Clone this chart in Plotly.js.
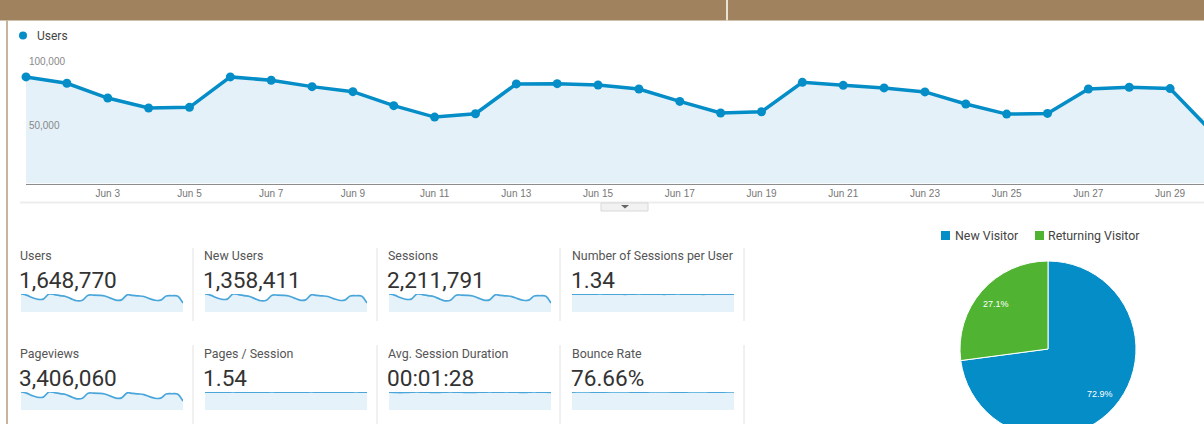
<!DOCTYPE html>
<html><head><meta charset="utf-8">
<script src="https://cdn.plot.ly/plotly-3.0.1.min.js"></script>
<style>
html,body{margin:0;padding:0;background:#fff;overflow:hidden;width:1204px;height:424px}
#wrap{width:1204px;height:424px;overflow:hidden;position:relative}
#chart{width:1204px;height:440px}
</style>
</head><body><div id="wrap"><div id="chart"></div></div>
<script>
// ---------- DATA ----------
const days = ["Jun 1","Jun 2","Jun 3","Jun 4","Jun 5","Jun 6","Jun 7","Jun 8","Jun 9","Jun 10",
  "Jun 11","Jun 12","Jun 13","Jun 14","Jun 15","Jun 16","Jun 17","Jun 18","Jun 19","Jun 20",
  "Jun 21","Jun 22","Jun 23","Jun 24","Jun 25","Jun 26","Jun 27","Jun 28","Jun 29","Jun 30"];
const users = [82300,77400,66000,58300,58800,82300,79700,74800,70900,60100,
  51300,53900,76900,77100,76100,73000,63400,54400,55400,78100,
  75800,73800,70700,61400,53600,54100,73000,74300,73300,40700];
const newUsers = [67500,63500,54100,47800,48200,67500,65400,61300,58100,49300,
  42100,44200,63100,63200,62400,59900,52000,44600,45400,64000,
  62200,60500,58000,50300,44000,44400,59900,60900,60100,33400];
const sessions = [110300,103700,88400,78100,78800,110300,106800,100200,95000,80500,
  68700,72200,103000,103300,102000,97800,85000,72900,74200,104700,
  101600,98900,94700,82300,71800,72500,97800,99600,98200,54500];
const sessionsPerUser = [1.34,1.34,1.33,1.34,1.34,1.35,1.34,1.34,1.34,1.33,
  1.33,1.34,1.35,1.34,1.34,1.34,1.33,1.33,1.34,1.35,
  1.34,1.34,1.34,1.33,1.33,1.34,1.34,1.34,1.34,1.33];
const pageviews = [169900,159700,136100,120300,121400,169900,164500,154300,146300,124000,
  105800,111200,158600,159100,157100,150600,130900,112300,114300,161200,
  156500,152300,145800,126700,110600,111700,150600,153400,151200,83900];
const pagesPerSession = [1.54,1.54,1.53,1.54,1.54,1.55,1.54,1.54,1.54,1.53,
  1.53,1.54,1.55,1.54,1.54,1.54,1.53,1.54,1.54,1.55,
  1.54,1.54,1.54,1.53,1.53,1.54,1.54,1.55,1.54,1.53];
const avgDurationSec = [88,87,86,87,88,89,88,88,87,87,88,89,88,88,87,87,88,88,89,88,
  88,89,88,88,87,88,89,88,88,87];
const bounceRate = [76.6,76.7,76.8,76.7,76.6,76.5,76.6,76.7,76.7,76.8,76.7,76.6,76.5,76.6,76.7,
  76.7,76.8,76.7,76.6,76.5,76.6,76.7,76.7,76.8,76.7,76.6,76.6,76.6,76.7,76.8];
const tickDays = ["Jun 1","Jun 3","Jun 5","Jun 7","Jun 9","Jun 11","Jun 13","Jun 15","Jun 17",
  "Jun 19","Jun 21","Jun 23","Jun 25","Jun 27","Jun 29"];
const tickText = ["...","Jun 3","Jun 5","Jun 7","Jun 9","Jun 11","Jun 13","Jun 15","Jun 17",
  "Jun 19","Jun 21","Jun 23","Jun 25","Jun 27","Jun 29"];
const yTickVals = [50000,100000];
const yTickText = ["50,000","100,000"];
const metricNames = ["Users","New Users","Sessions","Number of Sessions per User",
  "Pageviews","Pages / Session","Avg. Session Duration","Bounce Rate"];
const metricValues = ["1,648,770","1,358,411","2,211,791","1.34","3,406,060","1.54","00:01:28","76.66%"];
const metricSeries = [users,newUsers,sessions,sessionsPerUser,pageviews,pagesPerSession,avgDurationSec,bounceRate];
const visitorTypes = ["New Visitor","Returning Visitor"];
const visitorShare = [72.9,27.1];
const visitorLabels = ["72.9%","27.1%"];

// ---------- LAYOUT HELPERS ----------
const W=1204, H=440;
const fx = p => p/W;
const fy = p => 1 - p/H;
const BLUE='#058DC7', GREEN='#50B432';
const ROBOTO='Roboto, Arial, sans-serif';
const ARIAL='"Liberation Sans", Arial, sans-serif';

const traces = [];
traces.push({
  x: days, y: users, type:'scatter', mode:'lines+markers',
  line:{color:BLUE, width:3.5}, marker:{size:9, color:BLUE},
  fill:'tozeroy', fillcolor:'#E4F1F9', cliponaxis:false,
  xaxis:'x', yaxis:'y', hoverinfo:'x+y'
});

const layout = {
  width:W, height:H, margin:{l:0,r:0,t:0,b:0},
  paper_bgcolor:'#ffffff', plot_bgcolor:'#ffffff', showlegend:false,
  xaxis:{type:'category', domain:[fx(25.9),1], range:[-0.003,28.83],
    tickmode:'array', tickvals:tickDays, ticktext:tickText, ticks:'', showgrid:false,
    showline:true, linecolor:'#8c8c8c', linewidth:1.5, zeroline:false,
    tickfont:{family:ARIAL, size:10, color:'#777'}, fixedrange:true},
  yaxis:{domain:[fy(183.5), fy(54)], range:[0,100000], tickmode:'array',
    tickvals:yTickVals, ticktext:yTickText, ticklabelposition:'inside bottom', ticks:'',
    gridcolor:'#EEEEEE', gridwidth:1, zeroline:false, showline:false,
    tickfont:{family:ARIAL, size:10, color:'#888'}, fixedrange:true},
  shapes:[], annotations:[]
};

// sparkline boxes
const colX = [[21,183],[205,367],[389,551],[572,734]];
const labelX = [18,202,386,570];
const rowY = [{label:255, value:280, top:294, bottom:312},{label:353, value:378, top:392, bottom:410}];
for(let i=0;i<8;i++){
  const r = Math.floor(i/4), c = i%4, n = i+2;
  const ser = metricSeries[i];
  const mx = Math.max(...ser);
  layout['xaxis'+n] = {domain:[fx(colX[c][0]), fx(colX[c][1])], range:[0,29], type:'category',
    visible:false, anchor:'y'+n, fixedrange:true};
  layout['yaxis'+n] = {domain:[fy(rowY[r].bottom), fy(rowY[r].top)], range:[0,mx],
    visible:false, anchor:'x'+n, fixedrange:true};
  traces.push({x:days, y:ser, type:'scatter', mode:'lines',
    line:{color:'#4AA6DA', width:1.7, shape:'spline', smoothing:1},
    fill:'tozeroy', fillcolor:'#E5F2FA', xaxis:'x'+n, yaxis:'y'+n, hoverinfo:'skip', cliponaxis:false});
  layout.annotations.push({xref:'paper', yref:'paper', x:fx(labelX[c]), y:fy(rowY[r].label),
    xanchor:'left', yanchor:'middle', showarrow:false, text:metricNames[i],
    font:{family:ROBOTO, size:12.4, color:'#555'}});
  layout.annotations.push({xref:'paper', yref:'paper', x:fx(labelX[c]-1), y:fy(rowY[r].value),
    xanchor:'left', yanchor:'middle', showarrow:false, text:metricValues[i],
    font:{family:ROBOTO, size:22.6, color:'#333'}});
}

// pie
const pieCx=1048, pieCy=349, pieR=88;
traces.push({type:'pie', labels:visitorTypes, values:visitorShare, sort:false, direction:'clockwise',
  rotation:0, marker:{colors:[BLUE,GREEN], line:{color:'#ffffff', width:1}},
  textinfo:'none',
  domain:{x:[fx(pieCx-pieR),fx(pieCx+pieR)], y:[fy(pieCy+pieR),fy(pieCy-pieR)]}, hoverinfo:'label+percent'});
// percentage labels placed on slice bisectors
{
  const tot = visitorShare.reduce((a,b)=>a+b,0);
  let cum = 0;
  visitorShare.forEach((v,i)=>{
    const mid = (cum + v/2)/tot*2*Math.PI; cum += v;
    const d = 0.78*pieR;
    layout.annotations.push({xref:'paper', yref:'paper', x:fx(pieCx + d*Math.sin(mid)), y:fy(pieCy - d*Math.cos(mid)),
      xanchor:'center', yanchor:'middle', showarrow:false, text:visitorLabels[i],
      font:{family:ARIAL, size:9, color:'#ffffff'}});
  });
}

// decorations
const S = layout.shapes;
S.push({type:'rect', xref:'paper', yref:'paper', x0:0, x1:1, y0:fy(20.5), y1:1, fillcolor:'#A1825F', line:{width:0}});
S.push({type:'line', xref:'paper', yref:'paper', x0:fx(727), x1:fx(727), y0:fy(20.5), y1:1, line:{color:'#EAE1D4', width:2}});
S.push({type:'line', xref:'paper', yref:'paper', x0:fx(7), x1:fx(7), y0:0, y1:fy(20), line:{color:'#C8B59C', width:2}});
S.push({type:'line', xref:'paper', yref:'paper', x0:fx(20), x1:1, y0:fy(202.5), y1:fy(202.5), line:{color:'#EDEDED', width:2}});
S.push({type:'rect', xref:'paper', yref:'paper', x0:fx(601), x1:fx(648), y0:fy(211), y1:fy(203), fillcolor:'#F2F2F2', line:{color:'#D8D8D8', width:1}});
S.push({type:'path', xref:'paper', yref:'paper', path:`M ${fx(621)} ${fy(205)} L ${fx(629)} ${fy(205)} L ${fx(625)} ${fy(208.5)} Z`, fillcolor:'#666', line:{width:0}});
[193,377,560,744].forEach(x=>{
  S.push({type:'line', xref:'paper', yref:'paper', x0:fx(x), x1:fx(x), y0:fy(321), y1:fy(248), line:{color:'#E2E2E2', width:1}});
  S.push({type:'line', xref:'paper', yref:'paper', x0:fx(x), x1:fx(x), y0:fy(440), y1:fy(345), line:{color:'#E2E2E2', width:1}});
});
// series legend
S.push({type:'circle', xref:'paper', yref:'paper', x0:fx(19), x1:fx(27), y0:fy(39.5), y1:fy(31.5), fillcolor:BLUE, line:{width:0}});
layout.annotations.push({xref:'paper', yref:'paper', x:fx(35), y:fy(35.5), xanchor:'left', yanchor:'middle',
  showarrow:false, text:'Users', font:{family:ROBOTO, size:12, color:'#444'}});
// pie legend
S.push({type:'rect', xref:'paper', yref:'paper', x0:fx(941), x1:fx(950), y0:fy(240), y1:fy(231), fillcolor:BLUE, line:{width:0}});
S.push({type:'rect', xref:'paper', yref:'paper', x0:fx(1035), x1:fx(1044), y0:fy(240), y1:fy(231), fillcolor:GREEN, line:{width:0}});
layout.annotations.push({xref:'paper', yref:'paper', x:fx(953), y:fy(235.5), xanchor:'left', yanchor:'middle',
  showarrow:false, text:visitorTypes[0], font:{family:ROBOTO, size:12.4, color:'#444'}});
layout.annotations.push({xref:'paper', yref:'paper', x:fx(1046), y:fy(235.5), xanchor:'left', yanchor:'middle',
  showarrow:false, text:visitorTypes[1], font:{family:ROBOTO, size:12.4, color:'#444'}});

Plotly.newPlot('chart', traces, layout, {displayModeBar:false, staticPlot:true});
</script>
</body></html>
